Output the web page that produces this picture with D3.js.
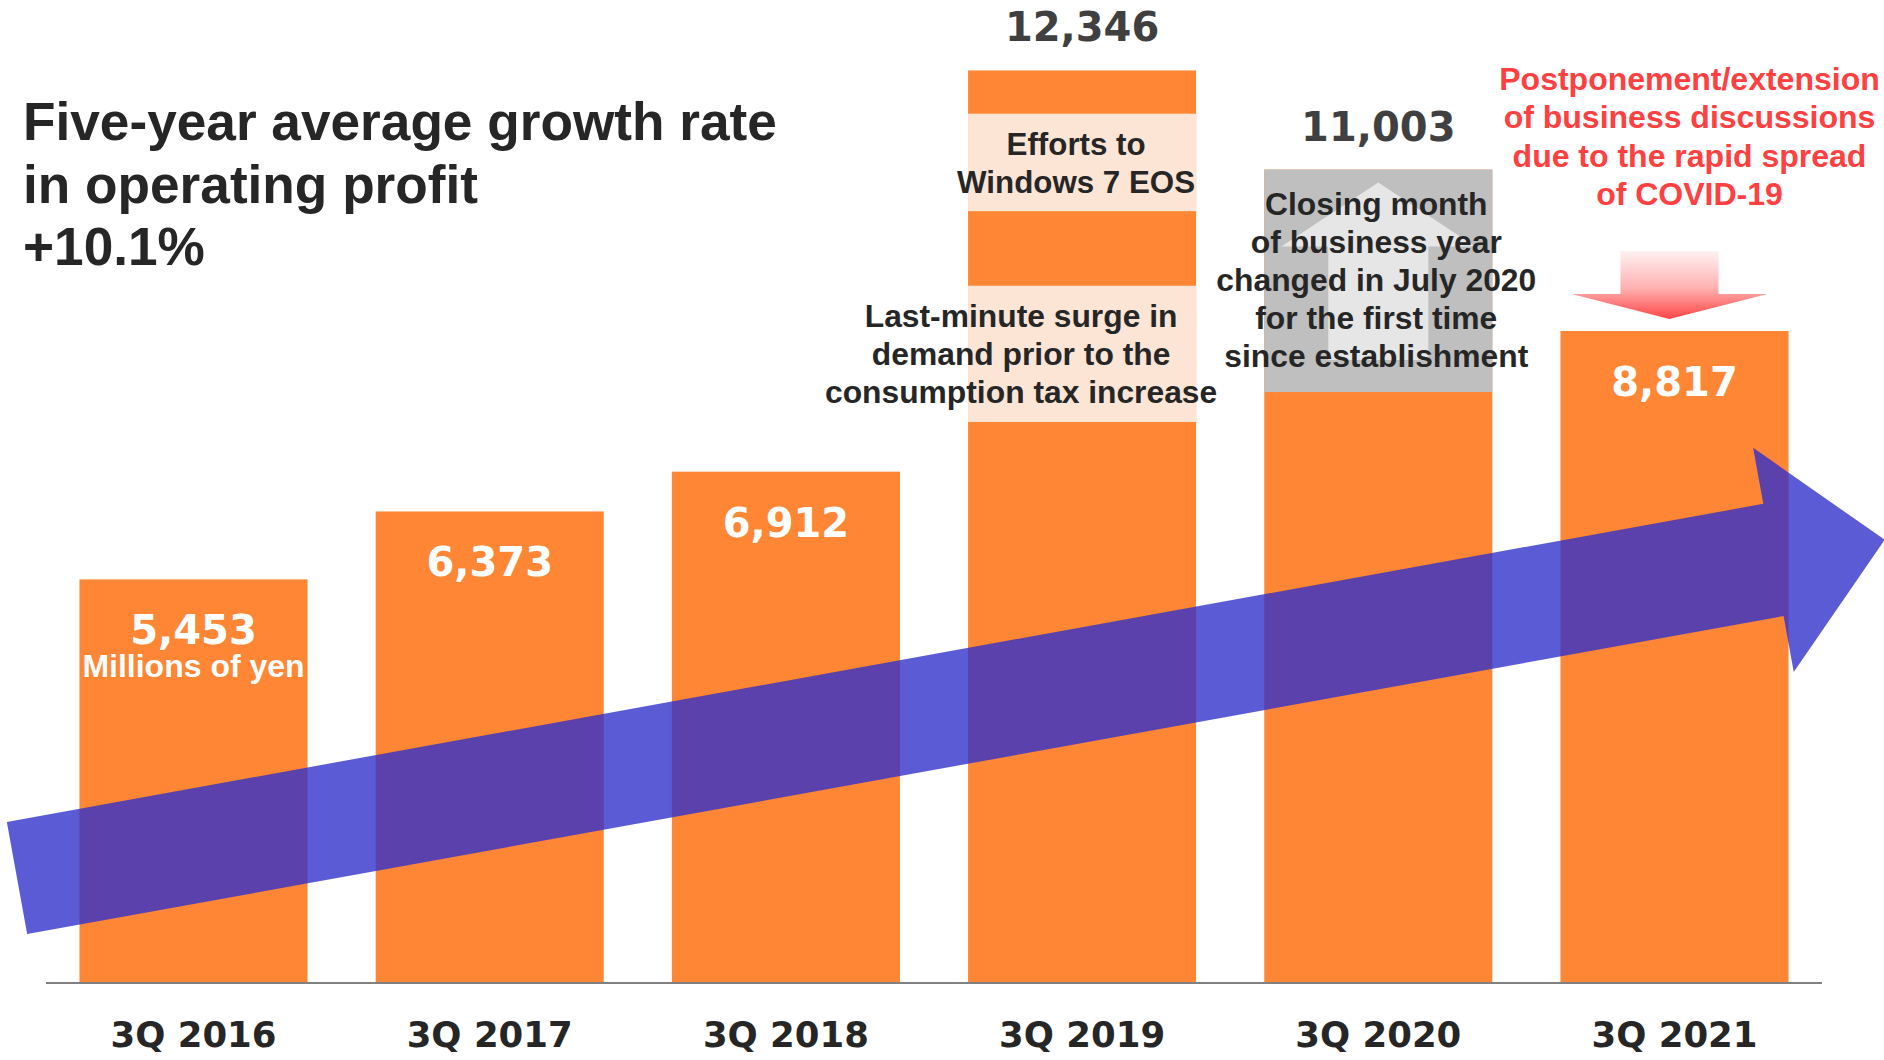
<!DOCTYPE html>
<html>
<head>
<meta charset="utf-8">
<script src="https://cdn.jsdelivr.net/npm/d3@7"></script>
<style>
  html, body { margin: 0; padding: 0; background: #ffffff; }
  svg { display: block; }
  .sans { font-family: "Liberation Sans", Arial, sans-serif; font-weight: bold; }
  .wide { font-family: "DejaVu Sans", Verdana, sans-serif; font-weight: bold; }
</style>
</head>
<body>
<svg id="chart" width="1884" height="1060"></svg>
<script>
// Operating profit by fiscal third quarter (millions of yen)
const categories = ["3Q 2016", "3Q 2017", "3Q 2018", "3Q 2019", "3Q 2020", "3Q 2021"];
const profit = [5453, 6373, 6912, 12346, 11003, 8817];
const valueLabels = ["5,453", "6,373", "6,912", "12,346", "11,003", "8,817"];

// Highlighted slices inside the 3Q 2019 bar (value ranges)
const highlightCategory = "3Q 2019";
const highlightRanges = [[10440, 11760], [7585, 9430]];
const highlightNotes = [
  ["Efforts to", "Windows 7 EOS"],
  ["Last-minute surge in", "demand prior to the", "consumption tax increase"]
];

// Portion of the 3Q 2020 bar attributed to the change of closing month
const shiftCategory = "3Q 2020";
const shiftFrom = 7990;
const shiftNote = ["Closing month", "of business year", "changed in July 2020", "for the first time", "since establishment"];

const covidCategory = "3Q 2021";
const covidNote = ["Postponement/extension", "of business discussions", "due to the rapid spread", "of COVID-19"];

const titleLines = ["Five-year average growth rate", "in operating profit", "+10.1%"];
const unitLabel = "Millions of yen";

const W = 1884, H = 1060;
const baseY = 982;
const svg = d3.select("#chart");

const x = d3.scaleBand().domain(categories).range([46, 1822])
  .paddingInner(0.23).paddingOuter(0.113);
const y = d3.scaleLinear().domain([0, 13300]).range([baseY, 0]);

const ORANGE = "#fe8634";
const PALE = "#fde5d6";
const DARK = "#262626";

const data = categories.map((c, i) => ({ c, v: profit[i], label: valueLabels[i] }));

// defs: gradient for the downward arrow
const defs = svg.append("defs");
const grad = defs.append("linearGradient").attr("id", "downGrad")
  .attr("x1", 0).attr("y1", 0).attr("x2", 0).attr("y2", 1);
grad.append("stop").attr("offset", "0%").attr("stop-color", "#fff1f1");
grad.append("stop").attr("offset", "55%").attr("stop-color", "#ffb0b0");
grad.append("stop").attr("offset", "100%").attr("stop-color", "#ff4545");

// Bars
svg.append("g").selectAll("rect").data(data).join("rect")
  .attr("x", d => x(d.c))
  .attr("y", d => y(d.v))
  .attr("width", x.bandwidth())
  .attr("height", d => baseY - y(d.v))
  .attr("fill", ORANGE);

// Pale slices in the 3Q 2019 bar
svg.append("g").selectAll("rect").data(highlightRanges).join("rect")
  .attr("x", x(highlightCategory))
  .attr("y", d => y(d[1]))
  .attr("width", x.bandwidth())
  .attr("height", d => y(d[0]) - y(d[1]))
  .attr("fill", PALE);

// Grey segment in the 3Q 2020 bar with an upward arrow
const shiftVal = profit[categories.indexOf(shiftCategory)];
const sx = x(shiftCategory), sw = x.bandwidth();
svg.append("rect")
  .attr("x", sx).attr("y", y(shiftVal))
  .attr("width", sw).attr("height", y(shiftFrom) - y(shiftVal))
  .attr("fill", "#bfbfbf");
{
  const cx = sx + sw / 2;
  const top = y(shiftVal) + 13, headBase = top + 64, bottom = y(shiftFrom) - 32;
  const hw = 97, sh = 50;
  const pts = [[cx, top], [cx + hw, headBase], [cx + sh, headBase], [cx + sh, bottom],
               [cx - sh, bottom], [cx - sh, headBase], [cx - hw, headBase]];
  svg.append("polygon").attr("points", pts.map(p => p.join(",")).join(" "))
    .attr("fill", "#e6e6e6");
}

// Red downward arrow above the 3Q 2021 bar
{
  const cx = x(covidCategory) + x.bandwidth() / 2 - 5;
  const tip = y(profit[categories.indexOf(covidCategory)]) - 12;
  const top = tip - 68, headBase = tip - 25, hw = 98, sh = 49;
  const pts = [[cx - sh, top], [cx + sh, top], [cx + sh, headBase], [cx + hw, headBase],
               [cx, tip], [cx - hw, headBase], [cx - sh, headBase]];
  svg.append("polygon").attr("points", pts.map(p => p.join(",")).join(" "))
    .attr("fill", "url(#downGrad)");
}

// Axis baseline
svg.append("line")
  .attr("x1", x.range()[0]).attr("x2", x.range()[1])
  .attr("y1", baseY + 1).attr("y2", baseY + 1)
  .attr("stroke", "#808080").attr("stroke-width", 2);

// Category labels
svg.append("g").selectAll("text").data(categories).join("text")
  .attr("class", "wide")
  .attr("x", d => x(d) + x.bandwidth() / 2)
  .attr("y", 1047)
  .attr("text-anchor", "middle")
  .attr("font-size", 35.5)
  .attr("fill", DARK)
  .text(d => d);

// Growth trend arrow (semi-transparent blue)
{
  const x0 = x.range()[0] - 29, y0 = 878;       // tail centre
  const angle = Math.atan2(-318, 1756);
  const shaft = 1785, head = 113, hw = 114, sw2 = 57;
  const local = [[0, -sw2], [shaft, -sw2], [shaft, -hw], [shaft + head, 0],
                 [shaft, hw], [shaft, sw2], [0, sw2]];
  const ca = Math.cos(angle), sa = Math.sin(angle);
  const pts = local.map(([u, v]) => [x0 + u * ca - v * sa, y0 + u * sa + v * ca]);
  svg.append("polygon").attr("points", pts.map(p => p.join(",")).join(" "))
    .attr("fill", "rgb(47,47,203)").attr("fill-opacity", 0.79);
}

// Value labels: inside the bar in white, above it in dark grey for the tall bars
const outside = new Set(["3Q 2019", "3Q 2020"]);
svg.append("g").selectAll("text").data(data).join("text")
  .attr("class", "wide")
  .attr("x", d => x(d.c) + x.bandwidth() / 2)
  .attr("y", d => outside.has(d.c) ? y(d.v) - 29 : y(d.v) + 65)
  .attr("text-anchor", "middle")
  .attr("font-size", 40)
  .attr("fill", d => outside.has(d.c) ? "#404040" : "#ffffff")
  .text(d => d.label);

// Unit under the first value
svg.append("text").attr("class", "sans")
  .attr("x", x(categories[0]) + x.bandwidth() / 2)
  .attr("y", y(profit[0]) + 98)
  .attr("text-anchor", "middle").attr("font-size", 32)
  .attr("fill", "#ffffff").text(unitLabel);

// Multi-line helper
function lines(g, arr, cx, firstBaseline, step, size, fill) {
  g.append("text").attr("class", "sans")
    .attr("text-anchor", "middle").attr("font-size", size).attr("fill", fill)
    .selectAll("tspan").data(arr).join("tspan")
    .attr("x", cx).attr("y", (d, i) => firstBaseline + i * step)
    .text(d => d);
}
const notes = svg.append("g");
const hx = x(highlightCategory) + x.bandwidth() / 2;
lines(notes, highlightNotes[0], hx - 6, 155, 37.5, 31.3, DARK);
lines(notes, highlightNotes[1], hx - 61, 327, 38, 31.8, DARK);
lines(notes, shiftNote, sx + sw / 2 - 2, 215, 38, 31.8, DARK);
lines(notes, covidNote, x(covidCategory) + x.bandwidth() / 2 + 15, 90, 38.3, 32, "#ff4040");

// Title block
const title = svg.append("text").attr("class", "sans")
  .attr("font-size", 53.2).attr("fill", DARK);
title.selectAll("tspan").data(titleLines).join("tspan")
  .attr("x", 23).attr("y", (d, i) => 140 + i * 62.5)
  .text(d => d);
</script>
</body>
</html>
